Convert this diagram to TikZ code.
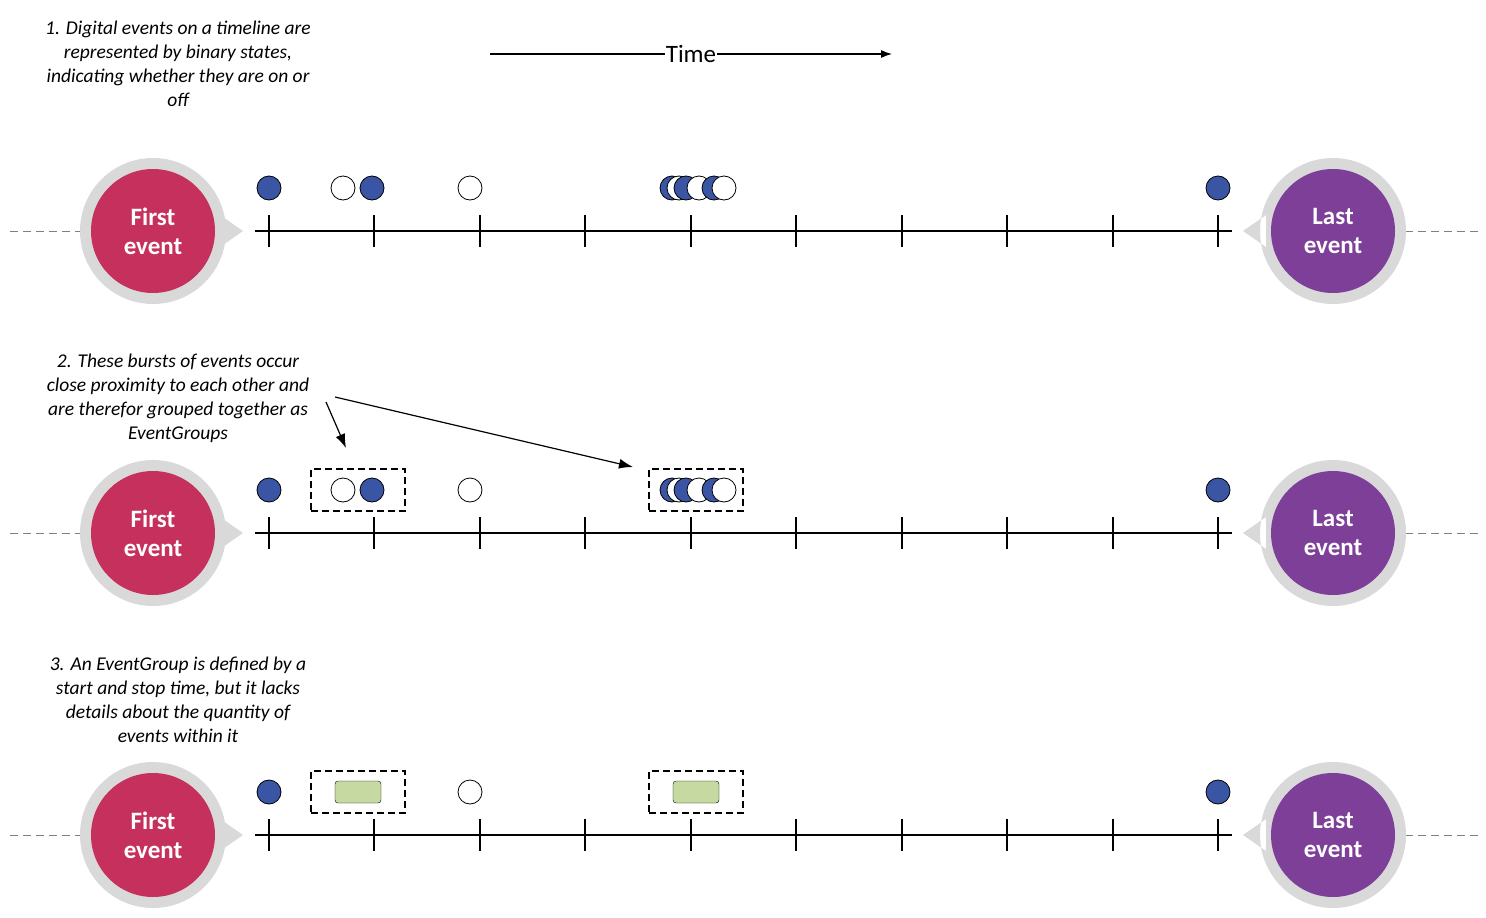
\documentclass[tikz,border=0pt]{standalone}
\usepackage{fontspec}
\setmainfont{Carlito}
\usetikzlibrary{arrows.meta}
\definecolor{firstred}{HTML}{C6305C}
\definecolor{lastpurple}{HTML}{7D3F98}
\definecolor{dotblue}{HTML}{3A55A4}
\definecolor{groupgreen}{HTML}{C5D9A0}
\definecolor{ringgray}{HTML}{D9D9D9}
\tikzset{
  on/.style={circle,draw=black,fill=dotblue,minimum size=24pt,inner sep=0pt,line width=0.8pt},
  off/.style={circle,draw=black,fill=white,minimum size=24pt,inner sep=0pt,line width=0.8pt},
  group/.style={draw,line width=1.2pt,dash pattern=on 7pt off 4pt,minimum width=94pt,minimum height=42pt},
  note/.style={align=center,font=\itshape\fontsize{19.5}{24}\selectfont},
  big/.style={circle,minimum size=124pt,inner sep=0pt,text=white,align=center,font=\bfseries\fontsize{25}{29}\selectfont}
}
\begin{document}
\begin{tikzpicture}[x=1pt,y=-1pt]
\useasboundingbox (0,0) rectangle (1486,918);
% notes and time axis
\node[note] (n1) at (178,64) {1. Digital events on a timeline are\\represented by binary states,\\indicating whether they are on or\\off};
\node[note] (n2) at (178,398) {2. These bursts of events occur\\close proximity to each other and\\are therefor grouped together as\\EventGroups};
\node[note] (n3) at (178,700) {3. An EventGroup is defined by a\\start and stop time, but it lacks\\details about the quantity of\\events within it};
\coordinate (t0) at (490,54);
\coordinate (t1) at (892,54);
\node[font=\fontsize{25}{26}\selectfont,fill=white,inner sep=1pt] (time) at (691,54) {Time};
\draw[line width=1.2pt,-{Latex[length=11pt,width=8pt]}] (t0) -- (time) -- (t1);
\foreach \r in {0,1,2}{
  \begin{scope}[yshift=-\r*302pt]
    \draw[gray,line width=1pt,dash pattern=on 8pt off 5pt] (10,231) -- (80,231);
    \draw[gray,line width=1pt,dash pattern=on 8pt off 5pt] (1405,231) -- (1478,231);
    \fill[ringgray] (153,231) circle (73) (220,215) -- (243,231) -- (220,247) -- cycle;
    \fill[ringgray] (1333,231) circle (73) (1266,215) -- (1243,231) -- (1266,247) -- cycle;
    \node[big,fill=firstred] (first\r) at (153,231) {First\\event};
    \node[big,fill=lastpurple] (last\r) at (1333,231) {Last\\event};
    \draw[line width=1.2pt] (255,231) -- (1232,231);
    \foreach \x in {269,374,480,585,691,796,902,1007,1113,1218}
      \draw[line width=1.2pt] (\x,215) -- (\x,247);
    \node[on] (a\r) at (269,188) {};
    \node[off] (c\r) at (470,188) {};
    \node[on] (z\r) at (1218,188) {};
  \end{scope}
}
% row 1 and 2 individual events
\foreach \r in {0,1}{
  \begin{scope}[yshift=-\r*302pt]
    \node[off] at (343,188) {};
    \node[on] at (372,188) {};
    \node[on] at (672,188) {};
    \node[off] at (679,188) {};
    \node[on] at (686,188) {};
    \node[off] at (699,188) {};
    \node[on] at (714,188) {};
    \node[off] at (724,188) {};
  \end{scope}
}
% event groups
\node[group] (g1) at (358,490) {};
\node[group] (g2) at (696,490) {};
\node[group] (g3) at (358,792) {};
\node[group] (g4) at (696,792) {};
\node[draw,fill=groupgreen,rounded corners=3pt,minimum width=46pt,minimum height=22pt] (e1) at (358,792) {};
\node[draw,fill=groupgreen,rounded corners=3pt,minimum width=46pt,minimum height=22pt] (e2) at (696,792) {};
\coordinate (p1) at (326,402);
\coordinate (p2) at (335,397);
\draw[line width=1.2pt,-{Latex[length=14pt,width=10pt]}] (p1) -- (346,448);
\draw[line width=1.2pt,-{Latex[length=14pt,width=10pt]}] (p2) -- (633,467);
\end{tikzpicture}
\end{document}
